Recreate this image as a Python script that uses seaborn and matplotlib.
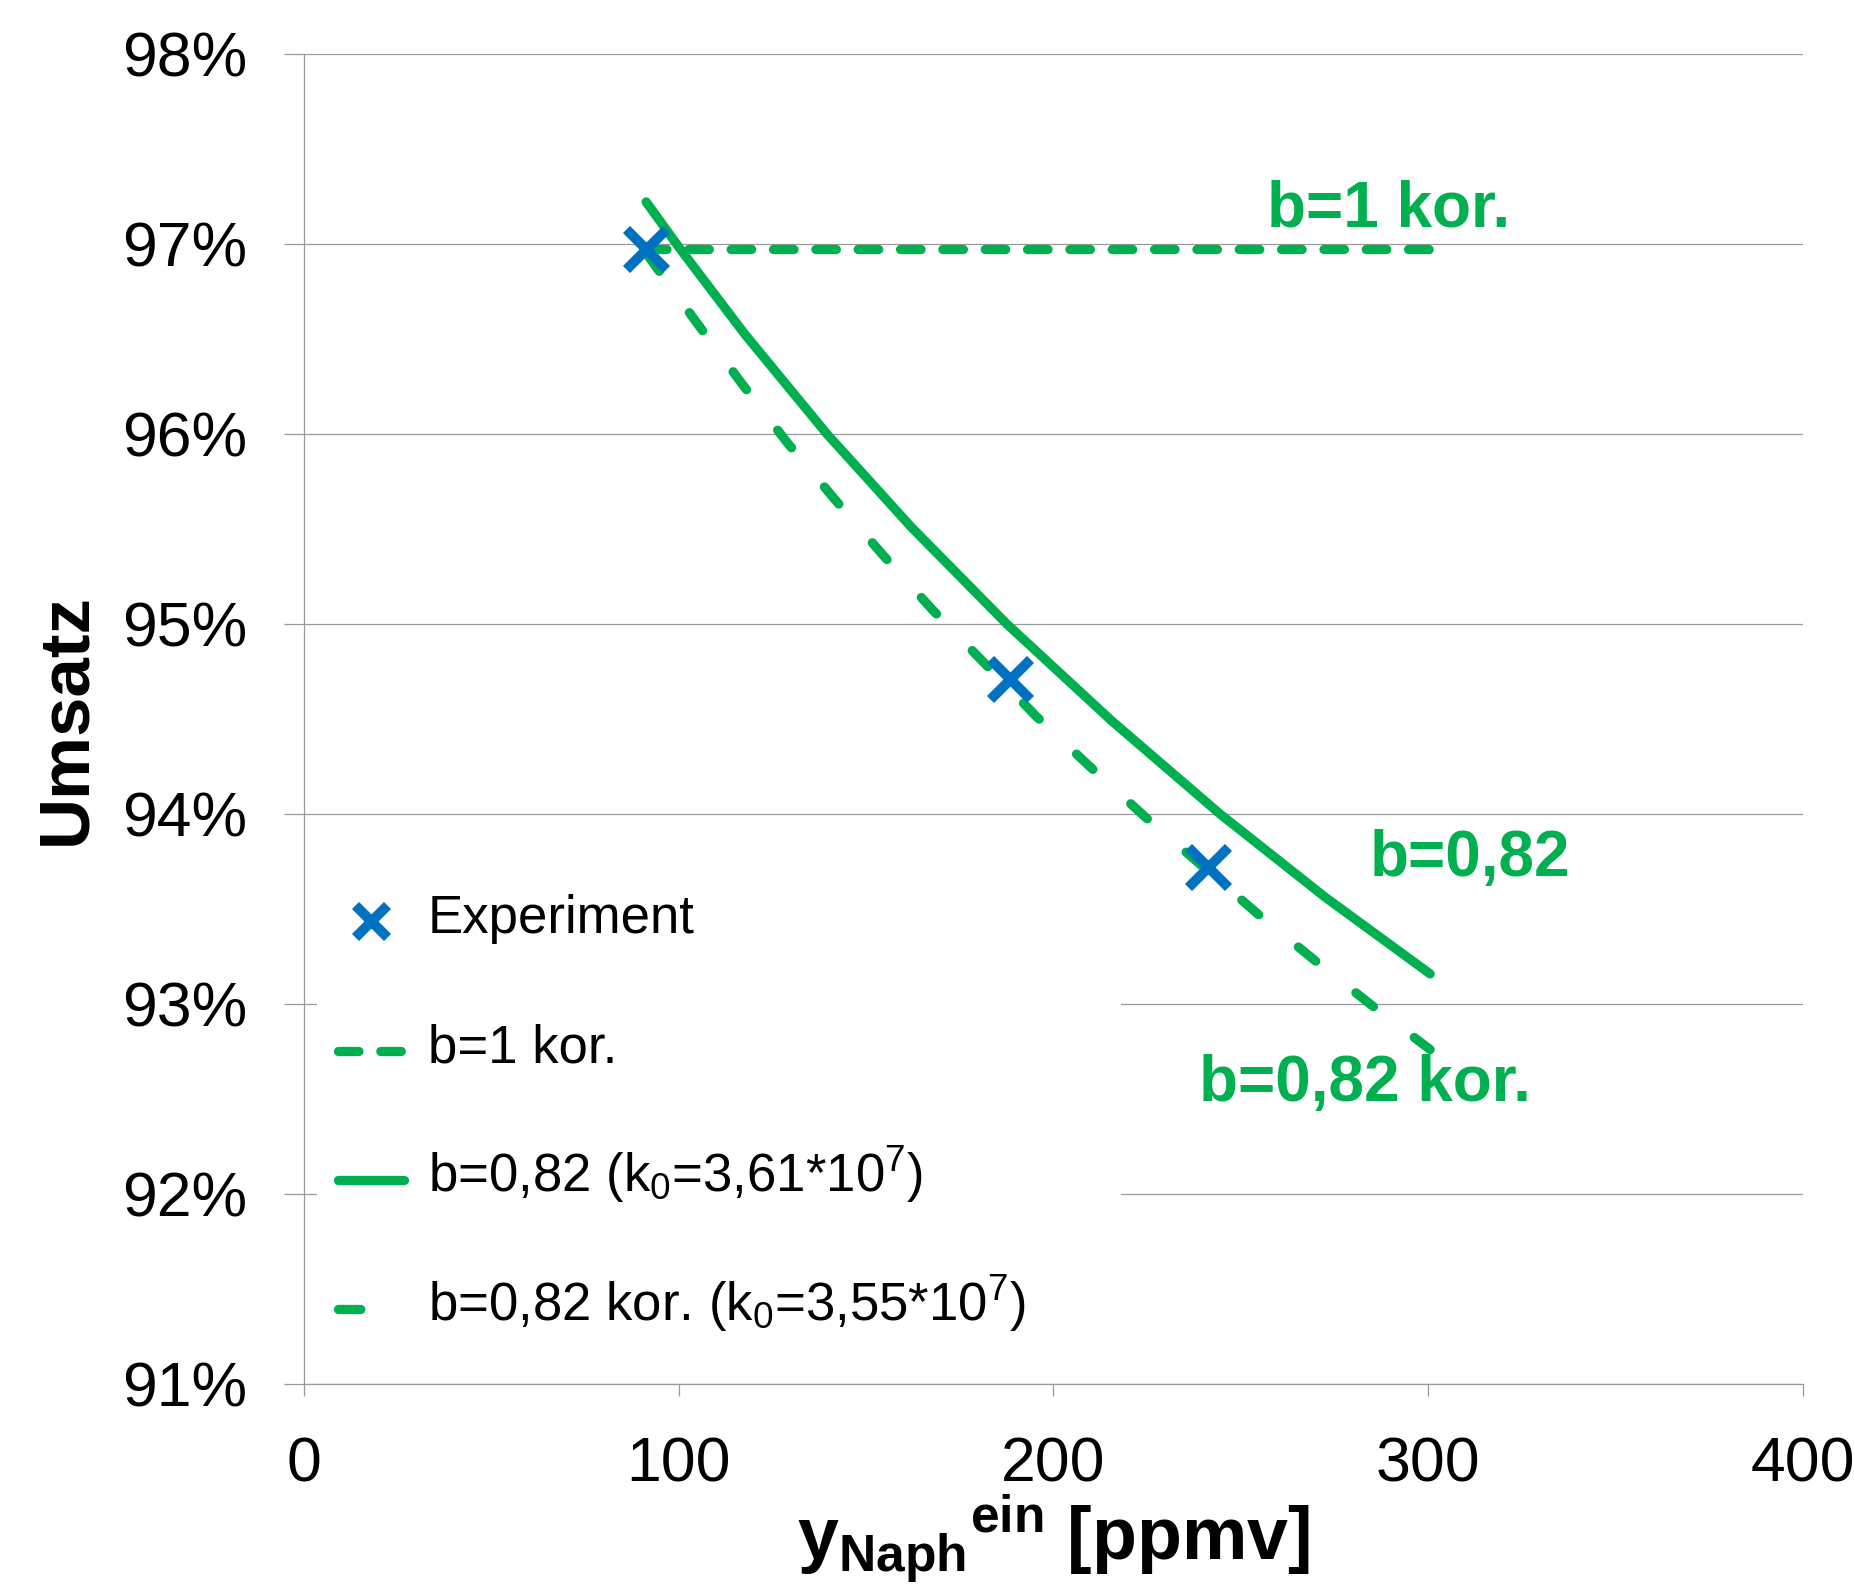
import numpy as np
import seaborn as sns
import matplotlib.pyplot as plt
from matplotlib.lines import Line2D
from matplotlib.legend_handler import HandlerLine2D
from matplotlib.ticker import FuncFormatter

# values (x in ppmv, y in %)
exp_x = [91.3, 188.4, 241.3]
exp_y = [96.97, 94.71, 93.72]

b1_kor_x = [91.3, 300.5]
b1_kor_y = [96.97, 96.97]

b082_x = [91.3, 100.1, 117.6, 139.5, 162.0, 187.5, 215.5, 244.4, 272.4, 300.5]
b082_y = [97.22, 96.98, 96.525, 96.0, 95.51, 95.0, 94.49, 94.0, 93.563, 93.158]

b082_kor_x = [91.3, 105.0, 116.8, 128.8, 141.5, 154.4, 167.7, 195.3, 209.8,
              224.3, 254.3, 269.6, 284.9, 300.5]
b082_kor_y = [96.95, 96.579, 96.265, 95.957, 95.658, 95.364, 95.074, 94.515,
              94.247, 93.987, 93.477, 93.231, 92.993, 92.76]

x_ticks = [0, 100, 200, 300, 400]
y_ticks = [91, 92, 93, 94, 95, 96, 97, 98]

labels = ["Experiment", "b=1 kor.", r"b=0,82 (k$_0$=3,61*10$^7$)",
          r"b=0,82 kor. (k$_0$=3,55*10$^7$)"]

green = "#00B050"
blue = "#0070C0"
gray = "#999999"


class LoweredLine(HandlerLine2D):
    # excel puts the legend lines a bit lower than matplotlib does
    def create_artists(self, legend, orig_handle, xdescent, ydescent,
                       width, height, fontsize, trans):
        arts = super().create_artists(legend, orig_handle, xdescent, ydescent,
                                      width, height, fontsize, trans)
        for a in arts:
            a.set_ydata(np.asarray(a.get_ydata()) - 0.26 * fontsize)
        return arts


sns.set_theme(style="white", rc={"text.color": "black",
                                 "axes.labelcolor": "black",
                                 "xtick.color": "black",
                                 "ytick.color": "black"})
plt.rcParams["font.family"] = ["Liberation Sans", "DejaVu Sans"]
plt.rcParams["mathtext.fontset"] = "custom"
plt.rcParams["mathtext.rm"] = "Liberation Sans"
plt.rcParams["mathtext.bf"] = "Liberation Sans:bold"
plt.rcParams["mathtext.it"] = "Liberation Sans:italic"
plt.rcParams["mathtext.default"] = "regular"

fig = plt.figure(figsize=(18.54, 15.9), dpi=100)
ax = fig.add_axes([0.16397, 0.12956, 0.80852, 0.83667])

lw = 6.7
sns.lineplot(x=b1_kor_x, y=b1_kor_y, ax=ax, estimator=None, sort=False,
             color=green, linewidth=lw, linestyle=(0, (2.2, 2.35)),
             dash_capstyle="round", label=labels[1])
sns.lineplot(x=b082_x, y=b082_y, ax=ax, estimator=None, sort=False,
             color=green, linewidth=lw, solid_capstyle="round",
             solid_joinstyle="round", label=labels[2])
sns.lineplot(x=b082_kor_x, y=b082_kor_y, ax=ax, estimator=None, sort=False,
             color=green, linewidth=lw, linestyle=(0, (2.4, 5.5)),
             dash_capstyle="round", label=labels[3])
sns.scatterplot(x=exp_x, y=exp_y, ax=ax, marker="x", s=830, linewidth=7.2,
                color=blue, label=labels[0], zorder=5)

# annotations on the curves
ax.text(256.9, 97.09, "b=1 kor.", color=green, fontsize=46,
        fontweight="bold", va="baseline")
ax.text(284.3, 93.675, "b=0,82", color=green, fontsize=46,
        fontweight="bold", va="baseline")
ax.text(238.9, 92.49, "b=0,82 kor.", color=green, fontsize=46,
        fontweight="bold", va="baseline")

ax.set_xlim(0, 400)
ax.set_ylim(91, 98)
ax.set_xticks(x_ticks)
ax.set_yticks(y_ticks)
ax.yaxis.set_major_formatter(FuncFormatter(lambda v, p: f"{v:.0f}%"))

ax.grid(axis="y", color=gray, linewidth=0.9)
ax.grid(axis="x", visible=False)
for s in ["top", "right"]:
    ax.spines[s].set_visible(False)
for s in ["left", "bottom"]:
    ax.spines[s].set_color(gray)
    ax.spines[s].set_linewidth(0.9)

ax.tick_params(axis="y", direction="out", length=14.4, width=0.9,
               color=gray, labelcolor="black", pad=26.6, labelsize=45,
               left=True)
ax.tick_params(axis="x", direction="out", length=8.6, width=0.9,
               color=gray, labelcolor="black", pad=28.8, labelsize=45,
               bottom=True)

ax.set_ylabel("Umsatz", fontsize=51, fontweight="bold", va="center")
ax.yaxis.set_label_coords(-0.158, 0.5)
ax.set_xlabel(r"$\mathbf{y_{Naph}{}^{ein}}$ [ppmv]", fontsize=53,
              fontweight="bold", va="baseline")
ax.xaxis.set_label_coords(0.5, -0.1323)

handles, labs = ax.get_legend_handles_labels()
order = [labs.index(l) for l in labels]
ax.legend([handles[i] for i in order], [labs[i] for i in order],
          loc="upper left", bbox_to_anchor=(0.0087, 0, 0.5363, 0.3931),
          mode="expand", borderaxespad=0, borderpad=0.4, handlelength=1.25,
          handleheight=1.6, handletextpad=0.45, labelspacing=1.16,
          fontsize=38, frameon=True, framealpha=1, edgecolor="none",
          facecolor="white", fancybox=False, markerscale=0.8,
          scatteryoffsets=[0.176], handler_map={Line2D: LoweredLine()})

fig.savefig("out.png", dpi=100)
